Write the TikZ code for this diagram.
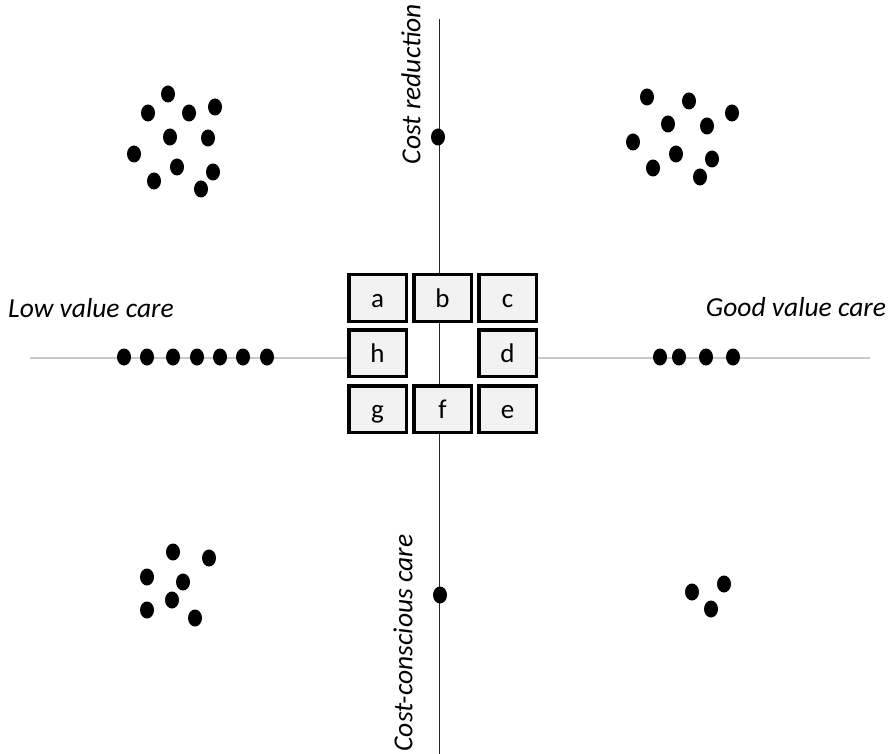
\documentclass[tikz,border=0pt]{standalone}
\usepackage{fontspec}
\setmainfont{Carlito}
\usepackage{tikz}
\usetikzlibrary{positioning}
\tikzstyle{cell} = [draw, line width=3.5pt, fill=black!5,
	minimum width=57.5pt,
	minimum height=46.5pt,
	inner sep=0pt,
	text height=19pt, text depth=0pt,
	font=\fontsize{27}{32}\selectfont]
\tikzstyle{mainline} = [line width=1.5pt, black!85]
\tikzstyle{grayline} = [line width=2pt, black!22]
\tikzstyle{axislabel} = [inner sep=0pt, font=\fontsize{27.5}{32}\selectfont\itshape]
\newcommand{\drawdots}[1]{\foreach \px/\py in {#1} \fill (\px,\py) ellipse (7pt and 8.5pt);}

\begin{document}
\begin{tikzpicture}[x=1pt, y=-1pt]
			\useasboundingbox (0,0) rectangle (892,754);
			
			% the cells round the crossing
			\node (a) [cell] at (377.5,298) {a};
			\node (b) [cell, right=4pt of a] {b};
			\node (c) [cell, right=4pt of b] {c};
			\node (h) [cell, below=5pt of a] {h};
			\node (d) [cell, below=5pt of c] {d};
			\node (g) [cell, below=6pt of h] {g};
			\node (f) [cell, right=4pt of g] {f};
			\node (e) [cell, right=4pt of f] {e};
			
			\coordinate (top) at (439.5,19);
			\coordinate (bottom) at (439.5,754);
			\coordinate (left) at (30,357.5);
			\coordinate (right) at (870,357.5);
			
			\draw [grayline] (left) -- (left -| h.west);
			\draw [grayline] (right -| d.east) -- (right);
			\draw [mainline] (top) -- (b.north -| top);
			\draw [mainline] (b.south -| top) -- (f.north -| top);
			\draw [mainline] (f.south -| top) -- (bottom);
			
			\node (costred) [axislabel, rotate=90] at (411,84) {Cost reduction};
			\node (costcon) [axislabel, rotate=90] at (403,643) {Cost-conscious care};
			\node (lowval) [axislabel] at (91,308) {Low value care};
			\node (goodval) [axislabel] at (796,307) {Good value care};
			
			% dots on the axes
			\drawdots{438/137, 440/595, 124/357, 147/357, 173/357, 197/357, 220/357, 243/357, 267/357, 660/357, 679/357, 706/357, 733/357}
			
			% dots in the corners
			\drawdots{168/94, 148/113, 189/113, 215/107, 170/137, 208/138, 134/154, 177/167, 213/172, 154/181, 201/189}
			\drawdots{647/97, 689/101, 732/113, 668/124, 707/126, 633/142, 676/154, 712/159, 653/168, 700/177}
			\drawdots{173/552, 209/558, 147/577, 183/582, 172/600, 147/610, 195/618}
			\drawdots{692/592, 724/584, 711/609}
		\end{tikzpicture}
\end{document}
